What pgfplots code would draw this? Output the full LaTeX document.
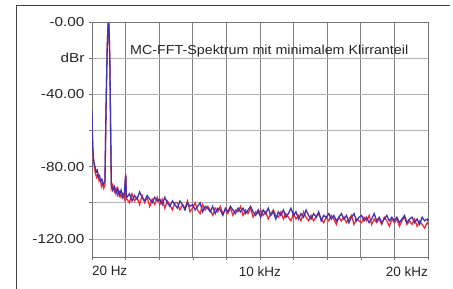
\documentclass[border=0pt]{standalone}
\usepackage{fontspec}
\setmainfont{Liberation Sans}
\newfontfamily\yfont{Liberation Sans}[FakeStretch=1.18]
\newfontfamily\tfont{Liberation Sans}[FakeStretch=1.1]
\usepackage{pgfplots}
\usepackage{pgfplotstable}
\pgfplotsset{compat=1.18}
\definecolor{sblue}{RGB}{70,50,170}
\definecolor{sred}{RGB}{235,45,55}
\pgfplotstableread{
f v
20 -49
40 -60
70 -70
100 -75
140 -78
200 -80
260 -83
330 -82
400 -86
470 -85
540 -88
610 -87
680 -90
750 -89
790 -88
850 -50
920 -15
975 -1
1025 -1
1080 -20
1130 -60
1170 -90
1250 -93
1350 -91
1450 -95
1550 -92
1650 -96
1750 -93
1850 -97
1950 -94
2000 -87
2030 -85
2060 -96
2100 -97
2250 -95
2400 -99
2550 -96
2700 -98
2850 -94
3000 -97
3150 -99
3300 -96
3450 -98
3600 -100
3750 -97
3900 -99
4050 -98
4200 -101
4350 -97
4500 -100
4650 -102
4800 -99
4950 -101
5100 -103
5250 -99
5400 -101
5550 -104
5700 -100
5850 -102
6000 -101
6150 -104
6300 -102
6450 -100
6600 -105
6750 -102
6900 -103
7050 -105
7200 -102
7350 -106
7500 -103
7650 -104
7800 -107
7950 -103
8100 -105
8250 -102
8400 -104
8550 -106
8700 -103
8850 -105
9000 -103
9150 -106
9300 -104
9450 -102
9600 -105
9750 -107
9900 -104
10050 -108
10200 -104
10350 -106
10500 -103
10650 -107
10800 -105
10950 -109
11100 -105
11250 -107
11400 -104
11550 -108
11700 -106
11850 -103
12000 -107
12150 -105
12300 -109
12450 -106
12600 -108
12750 -104
12900 -107
13050 -109
13200 -106
13350 -108
13500 -105
13650 -110
13800 -107
13950 -108
14100 -106
14250 -109
14400 -107
14550 -110
14700 -108
14850 -106
15000 -109
15150 -107
15300 -111
15450 -108
15600 -106
15750 -110
15900 -108
16050 -107
16200 -110
16350 -108
16500 -111
16650 -109
16800 -106
16950 -110
17100 -108
17250 -111
17400 -109
17550 -107
17700 -110
17850 -108
18000 -110
18150 -108
18300 -111
18450 -109
18600 -107
18750 -111
18900 -109
19050 -108
19200 -111
19350 -109
19500 -112
19650 -108
19800 -110
19950 -109
20000 -110
}\blueseries
\pgfplotstableread{
f v
20 -57
50 -66
80 -73
120 -77
170 -81
230 -84
300 -86
370 -84
440 -88
510 -87
580 -91
650 -89
720 -92
790 -90
850 -52
920 -16
975 -1.5
1025 -1.5
1080 -22
1130 -62
1170 -92
1250 -90
1350 -94
1450 -92
1550 -96
1650 -94
1750 -97
1850 -95
1950 -98
2000 -88
2030 -84
2060 -98
2100 -98
2250 -100
2400 -95
2550 -99
2700 -97
2850 -101
3000 -96
3150 -100
3300 -97
3450 -102
3600 -98
3750 -101
3900 -97
4050 -101
4200 -98
4350 -103
4500 -99
4650 -101
4800 -104
4950 -100
5100 -100
5250 -104
5400 -101
5550 -103
5700 -99
5850 -105
6000 -103
6150 -100
6300 -104
6450 -106
6600 -101
6750 -104
6900 -102
7050 -104
7200 -107
7350 -103
7500 -105
7650 -102
7800 -106
7950 -104
8100 -106
8250 -103
8400 -107
8550 -104
8700 -105
8850 -102
9000 -107
9150 -104
9300 -106
9450 -103
9600 -108
9750 -105
9900 -106
10050 -104
10200 -107
10350 -105
10500 -109
10650 -106
10800 -104
10950 -107
11100 -108
11250 -105
11400 -109
11550 -106
11700 -108
11850 -110
12000 -106
12150 -109
12300 -107
12450 -110
12600 -105
12750 -108
12900 -110
13050 -107
13200 -110
13350 -108
13500 -106
13650 -109
13800 -111
13950 -108
14100 -110
14250 -107
14400 -109
14550 -112
14700 -108
14850 -110
15000 -108
15150 -111
15300 -109
15450 -107
15600 -112
15750 -109
15900 -110
16050 -111
16200 -108
16350 -110
16500 -107
16650 -112
16800 -109
16950 -111
17100 -109
17250 -112
17400 -108
17550 -110
17700 -113
17850 -109
18000 -111
18150 -109
18300 -113
18450 -110
18600 -108
18750 -112
18900 -110
19050 -112
19200 -109
19350 -113
19500 -110
19650 -112
19800 -114
19950 -111
20000 -112
}\redseries
\begin{document}
\begin{tikzpicture}[x=1pt,y=1pt]
\path[use as bounding box] (0,0) rectangle (453,289);
\draw[black!75, line width=1pt] (16,0) -- (16,283) -- (450,283);
\begin{axis}[
  at={(92pt,32pt)}, anchor=south west,
  scale only axis, width=336pt, height=235pt,
  xmin=20, xmax=20000, ymin=-130, ymax=0,
  scaled x ticks=false, scaled y ticks=false,
  axis line style={black!55, line width=0.8pt},
  xtick={20,2018,...,20000},
  xticklabels={\makebox[0pt][l]{20 Hz},,,,,10 kHz,,,,,\makebox[0pt][r]{20 kHz}},
  ytick={0,-20,-40,-60,-80,-100,-120},
  yticklabels={-0.00,dBr,-40.00,,-80.00,,-120.00},
  tick align=outside, major tick length=3pt,
  tick style={black!55, line width=0.6pt},
  xtick pos=bottom, ytick pos=left,
  xmajorgrids, ymajorgrids,
  x grid style={black!50, line width=0.8pt},
  y grid style={black!30, line width=0.8pt},
  xticklabel style={font=\fontsize{13.5}{14}\selectfont, text=black!85, yshift=-3pt},
  yticklabel style={font=\yfont\fontsize{13}{14}\selectfont, text=black!85, xshift=-1pt},
  clip=true,
]
\addplot[sred, line width=1.3pt, no marks] table[x=f,y=v] {\redseries};
\addplot[sblue, line width=1.3pt, no marks] table[x=f,y=v] {\blueseries};
\node[anchor=base west, inner sep=0pt, font=\tfont\fontsize{13}{14}\selectfont, text=black!85] at (rel axis cs:0.113,0.860) {MC-FFT-Spektrum mit minimalem Klirranteil};
\end{axis}
\end{tikzpicture}
\end{document}
